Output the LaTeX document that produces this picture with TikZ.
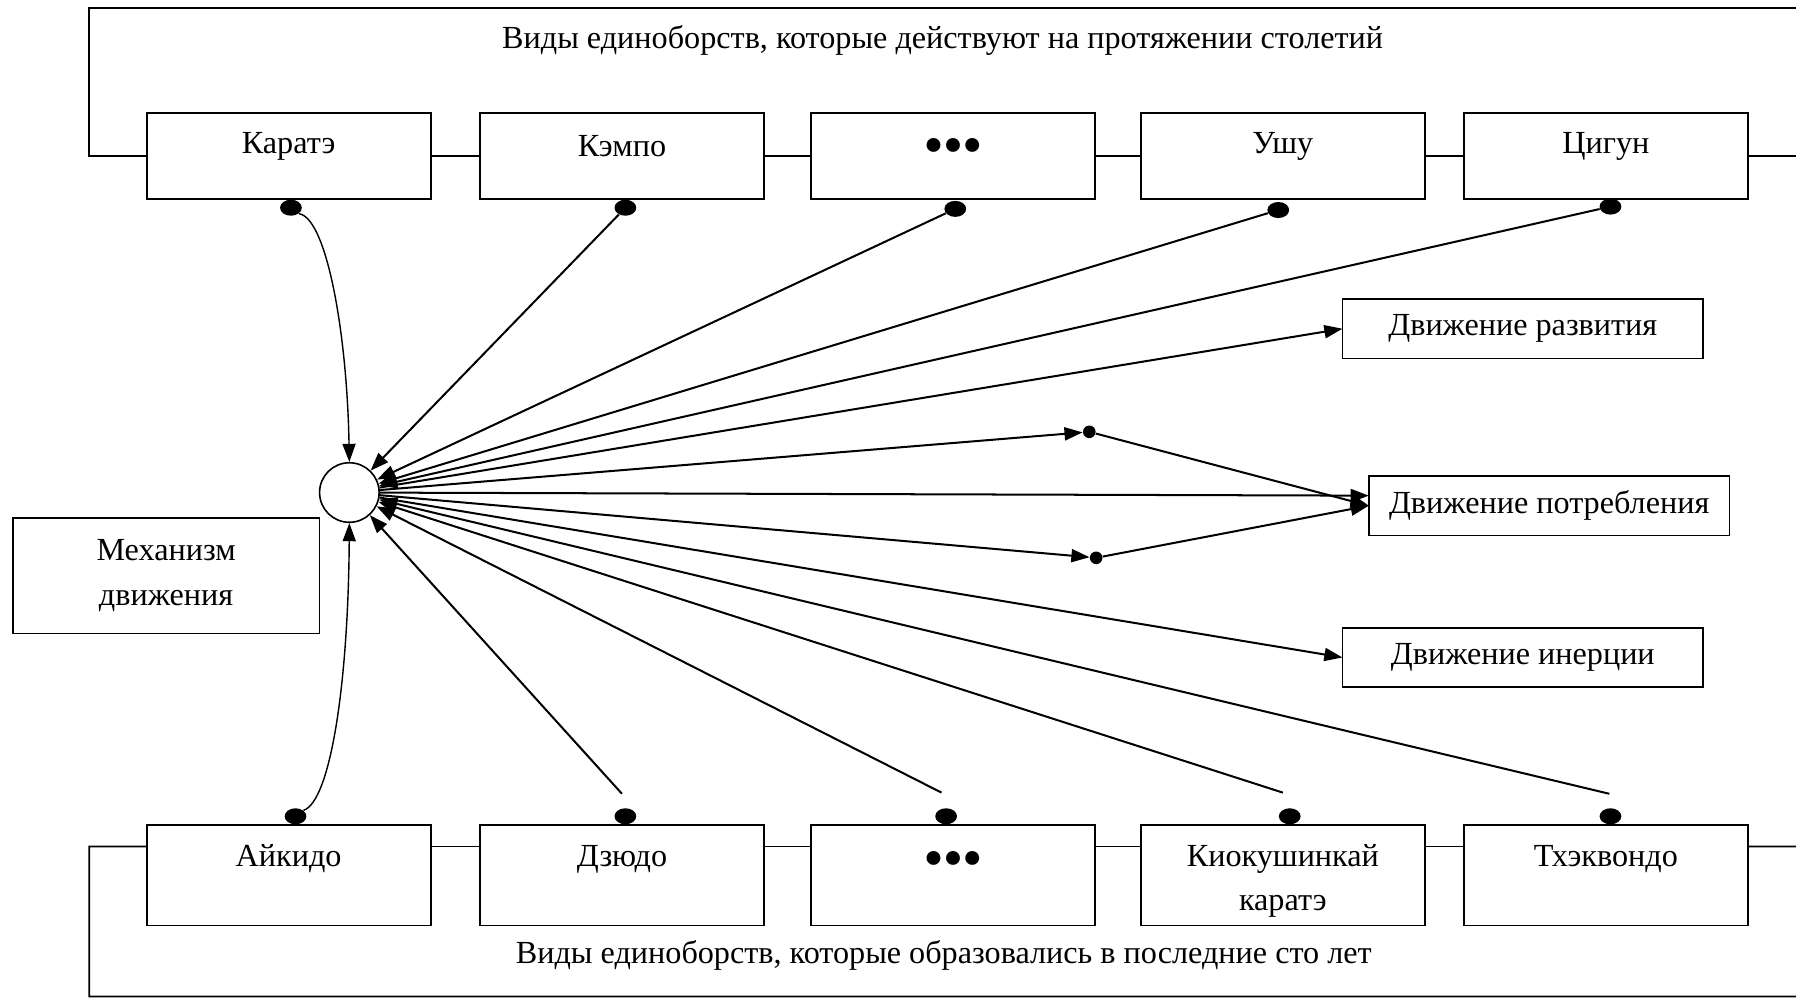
\documentclass[tikz,border=0pt]{standalone}
\usepackage{fontspec}
\setmainfont{Liberation Serif}
\usetikzlibrary{arrows.meta,calc,shapes.geometric}

\begin{document}
\begin{tikzpicture}[x=0.02cm,y=-0.02cm,
  every node/.style={font=\fontsize{16}{22}\selectfont},
  box/.style={draw,line width=0.9pt,outer sep=0pt,minimum width=4.96cm},
  topbox/.style={box,minimum height=1.5cm},
  botbox/.style={box,minimum height=1.76cm},
  movebox/.style={box,minimum width=6.3cm,minimum height=1.04cm},
  blob/.style={ellipse,fill,inner sep=0pt,minimum width=0.38cm,minimum height=0.28cm},
  pt/.style={circle,fill,inner sep=0pt,minimum size=0.22cm},
  arr/.style={-{Triangle[length=9pt,width=6.5pt]},line width=1pt},
  frame/.style={line width=0.9pt}]
  \useasboundingbox (0,0) rectangle (1568,872);

  % upper row
  \node[topbox] (karate) at (252,136.5) {};
  \node[topbox] (kempo) at (543,136.5) {};
  \node[topbox] (dotsA) at (832,136.5) {};
  \node[topbox] (ushu) at (1120,136.5) {};
  \node[topbox] (cigun) at (1402,136.5) {};
  \node (karateT) at (252,128) {Каратэ};
  \node (kempoT) at (543,128) {Кэмпо};
  \node (dotsAT) at (832,128) {●●●};
  \node (ushuT) at (1120,128) {Ушу};
  \node (cigunT) at (1402,128) {Цигун};
  \node (topT) at (823,35) {Виды единоборств, которые действуют на протяжении столетий};
  \draw[frame] (karate.west) -- (78,136.5) -- (78,7) -- (1568,7);
  \draw[frame] (cigun.east) -- (1568,136.5);
  \foreach \a/\b in {karate/kempo,kempo/dotsA,dotsA/ushu,ushu/cigun}
    \draw[frame] (\a.east) -- (\b.west);
  \node[blob,anchor=north] (karateP) at (254,174) {};
  \node[blob,anchor=north] (kempoP) at (546,174) {};
  \node[blob,anchor=north] (dotsAP) at (834,175) {};
  \node[blob,anchor=north] (ushuP) at (1116,176) {};
  \node[blob,anchor=north] (cigunP) at (1406,173) {};

  % lower row
  \node[botbox] (aikido) at (252,764) {};
  \node[botbox] (dzyudo) at (543,764) {};
  \node[botbox] (dotsB) at (832,764) {};
  \node[botbox] (kyok) at (1120,764) {};
  \node[botbox] (tkd) at (1402,764) {};
  \node (aikidoT) at (252,750) {Айкидо};
  \node (dzyudoT) at (543,750) {Дзюдо};
  \node (dotsBT) at (832,750) {●●●};
  \node[align=center] (kyokT) at (1120,769) {Киокушинкай\\каратэ};
  \node (tkdT) at (1402,750) {Тхэквондо};
  \node (botT) at (824,834) {Виды единоборств, которые образовались в последние сто лет};
  \draw[frame] ($(aikido.north west)+(0,19)$) -- (78,739) -- (78,870) -- (1568,870);
  \draw[frame] ($(tkd.north east)+(0,19)$) -- (1568,739);
  \foreach \a/\b in {aikido/dzyudo,dzyudo/dotsB,dotsB/kyok,kyok/tkd}
    \draw[frame] ($(\a.north east)+(0,19)$) -- ($(\b.north west)+(0,19)$);
  \node[blob,anchor=south] (aikidoP) at (258,720) {};
  \node[blob,anchor=south] (dzyudoP) at (546,720) {};
  \node[blob,anchor=south] (dotsBP) at (826,720) {};
  \node[blob,anchor=south] (kyokP) at (1126,720) {};
  \node[blob,anchor=south] (tkdP) at (1406,720) {};

  % centre and right side
  \node[circle,draw,line width=0.8pt,inner sep=0pt,minimum size=1.04cm] (hub) at (305,430) {};
  \node[box,minimum width=5.36cm,minimum height=2.02cm,align=center] (mech) at (145,502.5) {Механизм\\движения};
  \node[movebox] (razv) at (1329.5,287) {Движение развития};
  \node[movebox] (potr) at (1352.5,441.5) {Движение потребления};
  \node[movebox] (inerc) at (1329.5,574) {Движение инерции};
  \node[pt] (ptA) at (951,377) {};
  \node[pt] (ptB) at (957,487) {};

  % arrows into the hub
  \draw[arr,line width=0.7pt] (karateP.south east) .. controls (285,190) and (303,290) .. (hub.north);
  \draw[arr] (kempoP) -- (hub);
  \draw[arr] (dotsAP) -- (hub);
  \draw[arr] (ushuP) -- (hub);
  \draw[arr] (cigunP) -- (hub);
  \draw[arr,line width=0.7pt] (aikidoP.north east) .. controls (288,700) and (304,600) .. (hub.south);
  \coordinate (dzyudoE) at (543,693);
  \coordinate (dotsBE) at (822,692);
  \coordinate (kyokE) at (1120,692);
  \coordinate (tkdE) at (1405,693);
  \draw[arr] (dzyudoE) -- (hub);
  \draw[arr] (dotsBE) -- (hub);
  \draw[arr] (kyokE) -- (hub);
  \draw[arr] (tkdE) -- (hub);

  % arrows out of the hub
  \draw[arr] (hub) -- (razv.west);
  \draw[arr] (hub) -- (ptA);
  \draw[arr] (ptA) -- (potr.west);
  \draw[arr] (hub) -- ([yshift=5pt]potr.west);
  \draw[arr] (hub) -- (ptB);
  \draw[arr] (ptB) -- (potr.west);
  \draw[arr] (hub) -- (inerc.west);
\end{tikzpicture}
\end{document}
